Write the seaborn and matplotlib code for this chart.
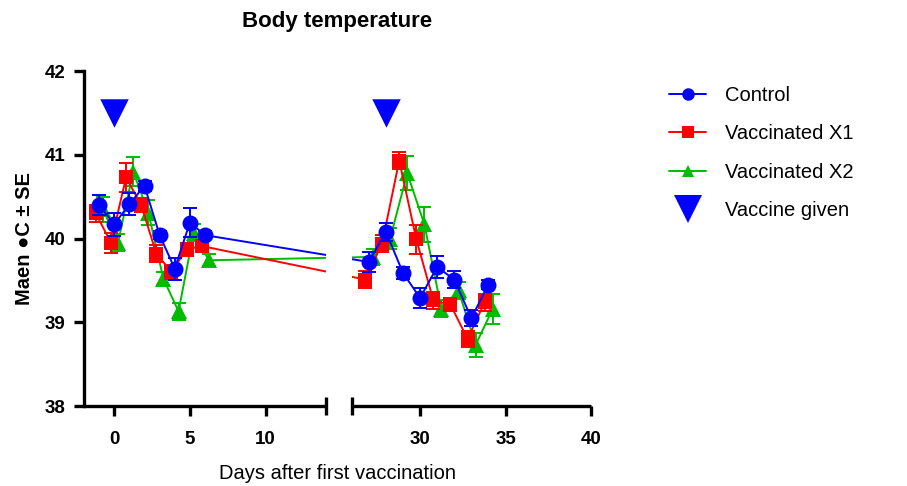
import numpy as np
import pandas as pd
import matplotlib
matplotlib.use("Agg")
import matplotlib.pyplot as plt
from matplotlib.lines import Line2D
import seaborn as sns

# ---------------- data ----------------
days = [-1, 0, 1, 2, 3, 4, 5, 6, 27, 28, 29, 30, 31, 32, 33, 34]

control = [40.40, 40.17, 40.41, 40.63, 40.04, 39.64, 40.19, 40.04,
           39.72, 40.08, 39.59, 39.29, 39.66, 39.51, 39.05, 39.45]
control_se = [0.12, 0.14, 0.13, 0.06, 0.05, 0.13, 0.17, 0.05,
              0.12, 0.11, 0.07, 0.12, 0.13, 0.10, 0.10, 0.05]

vacc_x1 = [40.30, 39.95, 40.73, 40.40, 39.82, 39.60, 39.87, 39.91,
           39.51, 39.94, 40.93, 39.99, 39.26, 39.21, 38.80, 39.24]
vacc_x1_se = [0.10, 0.12, 0.17, 0.08, 0.10, 0.08, 0.08, 0.06,
              0.10, 0.10, 0.10, 0.17, 0.10, 0.08, 0.10, 0.10]

vacc_x2 = [40.35, 39.95, 40.80, 40.31, 39.52, 39.13, 40.07, 39.74,
           39.78, 40.00, 40.78, 40.17, 39.16, 39.38, 38.73, 39.16]
vacc_x2_se = [0.15, 0.10, 0.17, 0.15, 0.08, 0.10, 0.10, 0.07,
              0.10, 0.12, 0.20, 0.21, 0.10, 0.10, 0.14, 0.18]

vaccine_days = [0, 28]
vaccine_level = [41.5, 41.5]

series_names = ["Control", "Vaccinated X1", "Vaccinated X2"]
x_ticks = [0, 5, 10, 30, 35, 40]
y_ticks = [38, 39, 40, 41, 42]

# ---------------- styling ----------------
sns.set_style("ticks")
plt.rcParams["font.family"] = ["Liberation Sans", "DejaVu Sans"]
for k in ["text.color", "axes.labelcolor", "xtick.color", "ytick.color",
          "axes.edgecolor"]:
    plt.rcParams[k] = "black"

BLUE = "#0000FF"
RED = "#FF0000"
GREEN = "#00BB00"
# small horizontal nudge per group (display only), in days
styles = {
    "Vaccinated X2": dict(color=GREEN, marker="^", ms=11, z=2.0, nudge=0.25),
    "Vaccinated X1": dict(color=RED, marker="s", ms=10.5, z=2.2, nudge=-0.22),
    "Control": dict(color=BLUE, marker="o", ms=11.5, z=2.4, nudge=0.0),
}
values = {"Control": (control, control_se),
          "Vaccinated X1": (vacc_x1, vacc_x1_se),
          "Vaccinated X2": (vacc_x2, vacc_x2_se)}

frames = []
for name in series_names:
    v, se = values[name]
    frames.append(pd.DataFrame({"day": days, "temp": v, "se": se, "group": name}))
df = pd.concat(frames, ignore_index=True)

# broken-axis mapping (piecewise linear): left segment -2..14, right 26..40
XP = np.array([-2.0, 14.0, 26.0, 40.0])
UP = np.array([0.0, 242.0, 267.7, 507.0])


def _pw(x, a, b):
    x = np.asarray(x, dtype=float)
    y = np.interp(x, a, b)
    s0 = (b[1] - b[0]) / (a[1] - a[0])
    s1 = (b[-1] - b[-2]) / (a[-1] - a[-2])
    y = np.where(x < a[0], b[0] + (x - a[0]) * s0, y)
    y = np.where(x > a[-1], b[-1] + (x - a[-1]) * s1, y)
    return y


def fwd(x):
    return _pw(x, XP, UP)


def inv(u):
    return _pw(u, UP, XP)


W, H = 907, 486
fig = plt.figure(figsize=(W / 100, H / 100), dpi=100)
ax = fig.add_axes([84 / W, (H - 406) / H, (591 - 84) / W, (406 - 71) / H])

for name in ["Vaccinated X2", "Vaccinated X1", "Control"]:
    st = styles[name]
    sub = df[df["group"] == name].copy()
    sub["xpos"] = sub["day"] + st["nudge"]
    ax.errorbar(sub["xpos"], sub["temp"], yerr=sub["se"], fmt="none",
                ecolor=st["color"], elinewidth=1.4, capsize=4.8, capthick=1.4,
                zorder=st["z"])
    sns.lineplot(data=sub, x="xpos", y="temp", ax=ax, color=st["color"],
                 marker=st["marker"], markersize=st["ms"], markeredgewidth=0,
                 linewidth=1.4, sort=False, errorbar=None, legend=False,
                 zorder=st["z"] + 0.1)

sns.scatterplot(x=vaccine_days, y=vaccine_level, ax=ax, marker="v", s=420,
                color=BLUE, linewidth=0, zorder=2.6, legend=False)

ax.set_xscale("function", functions=(fwd, inv))
ax.set_xlim(-2, 40)
ax.set_ylim(38, 42)

# hide gap between segments
ax.axvspan(14, 26, color="white", zorder=3, lw=0)

# axes decorations
for s in ["top", "right", "bottom"]:
    ax.spines[s].set_visible(False)
ax.spines["left"].set_linewidth(2.4)
ax.spines["left"].set_color("black")
ax.plot([-2, 14], [38, 38], color="black", lw=2.4, clip_on=False, zorder=5,
        solid_capstyle="butt")
ax.plot([26, 40], [38, 38], color="black", lw=2.4, clip_on=False, zorder=5,
        solid_capstyle="butt")
ax.plot([14, 26], [38, 38], ls="none", marker="|", ms=12.5, mew=2.4,
        color="black", clip_on=False, zorder=5)

ax.set_xticks(x_ticks)
ax.set_xticklabels([str(t) for t in x_ticks])
ax.set_yticks(y_ticks)
ax.set_yticklabels([str(t) for t in y_ticks])
ax.tick_params(axis="both", direction="out", length=7.2, width=2.4,
               color="black", labelcolor="black", labelsize=13.5, pad=6)
for lab in ax.get_xticklabels() + ax.get_yticklabels():
    lab.set_fontweight("bold")
ax.tick_params(axis="x", pad=11)

ax.set_xlabel("Days after first vaccination", fontsize=14.5, labelpad=11)
ax.set_ylabel("Maen ●C ± SE", fontsize=14.5, fontweight="bold", labelpad=8)
ax.grid(False)

fig.text(337 / W, 1 - 21 / H, "Body temperature", ha="center", va="center",
         fontsize=16, fontweight="bold")

handles = [
    Line2D([], [], color=BLUE, marker="o", ms=9, lw=1.4, mew=0),
    Line2D([], [], color=RED, marker="s", ms=8.5, lw=1.4, mew=0),
    Line2D([], [], color=GREEN, marker="^", ms=9, lw=1.4, mew=0),
    Line2D([], [], color=BLUE, marker="v", ms=20, ls="none", mew=0),
]
labels = ["Control", "Vaccinated X1", "Vaccinated X2", "Vaccine given"]
fig.legend(handles, labels, loc="upper left",
           bbox_to_anchor=(669 / W, 1 - 86 / H), frameon=False,
           fontsize=14.5, handlelength=1.85, handletextpad=0.95,
           labelspacing=0.96, borderpad=0, borderaxespad=0)

fig.savefig("out.png", dpi=100)
